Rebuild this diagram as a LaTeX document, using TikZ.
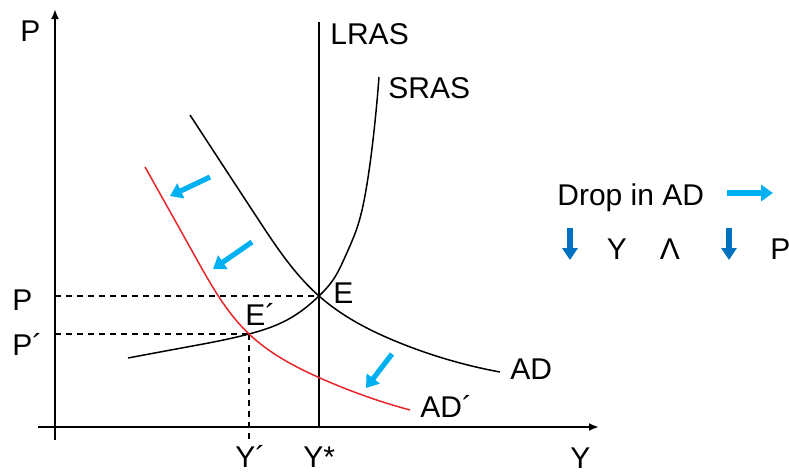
\documentclass[tikz,border=0pt]{standalone}
\usepackage{fontspec}
\setmainfont{Liberation Sans}
\usetikzlibrary{arrows.meta, hobby}

\begin{document}
\begin{tikzpicture}[x=0.5pt, y=-0.5pt, use Hobby shortcut,
  axis/.style={line width=1pt, -{Latex[length=5pt, width=4pt]}},
  curve/.style={line width=0.75pt},
  guide/.style={line width=0.7pt, dash pattern=on 3pt off 2.5pt},
  moveleft/.style={line width=2.6pt, color=shiftblue, -{Triangle[length=6pt, width=8pt]}},
  fall/.style={line width=2.6pt, color=fallblue, -{Triangle[length=6pt, width=7.5pt]}},
  lbl/.style={font=\fontsize{15}{18}\selectfont, inner sep=0pt, anchor=base west}]
\definecolor{shiftblue}{HTML}{00B0F0}
\definecolor{fallblue}{HTML}{0070C0}
\definecolor{adred}{HTML}{E8262A}
\useasboundingbox (0,0) rectangle (789,472);

% axes
\coordinate (O) at (55,427);
\draw[axis] (55,440) -- (55,9);
\draw[axis] (38,427) -- (599,427);

% equilibria
\coordinate (E) at (319,296);
\coordinate (E2) at (249,334);

% guide lines
\draw[guide] (55,296) -- (E);
\draw[guide] (55,334) -- (E2);
\draw[guide] (E2) -- (249,440);

% LRAS
\draw[curve] (319,22) -- (319,427);

% SRAS
\draw[curve] (128,358) .. (187,347) .. (E2) .. (287,320) .. (E) .. (333,280) .. (345,257) .. (357,228) .. (366,190) .. (373,140) .. (379,77);

% AD
\draw[curve] (190,115) .. (258,219) .. (E) .. (400,343) .. (500,372);

% AD shifted
\draw[curve, adred] (145,167) .. (196,258) .. (E2) .. (320,378) .. (410,410);

% shift arrows
\draw[moveleft] (210,177) -- (170,196);
\draw[moveleft] (252,242) -- (213,269);
\draw[moveleft] (392,354) -- (366,388);

% labels
\node[lbl] at (20,41) {P};
\node[lbl] at (330,44) {LRAS};
\node[lbl] at (388,98) {SRAS};
\node[lbl] at (333,303) {E};
\node[lbl] at (245,325) {E´};
\node[lbl] at (12,310) {P};
\node[lbl] at (12,355) {P´};
\node[lbl] at (235,467) {Y´};
\node[lbl] at (303,467) {Y*};
\node[lbl] at (570,468) {Y};
\node[lbl] at (510,379) {AD};
\node[lbl] at (420,417) {AD´};

% legend
\node[lbl] (drop) at (557,205) {Drop in AD};
\draw[moveleft] (727,193) -- (773,193);
\draw[fall] (570,228) -- (570,260);
\node[lbl, anchor=base] at (617,259) {Y};
\node[lbl, anchor=base] at (670,259) {Λ};
\draw[fall] (729,228) -- (729,260);
\node[lbl] at (770,259) {P};
\end{tikzpicture}
\end{document}
